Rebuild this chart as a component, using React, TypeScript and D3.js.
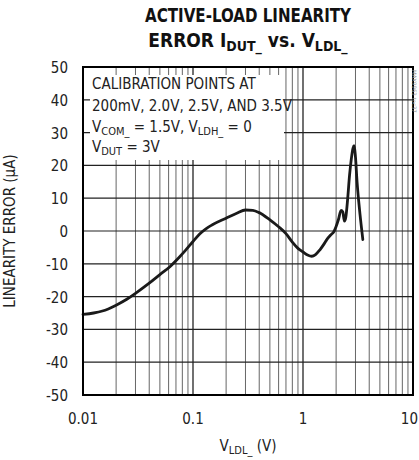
import * as d3 from 'd3'

// values
const VLDL = [0.01, 0.0125, 0.015, 0.02, 0.025, 0.03, 0.04, 0.05, 0.062, 0.075, 0.085, 0.1, 0.115, 0.13, 0.15, 0.2, 0.25, 0.3, 0.35, 0.4, 0.5, 0.6, 0.7, 0.8, 0.9, 1.0, 1.1, 1.2, 1.3, 1.42, 1.55, 1.64, 1.8, 1.9, 2.0, 2.1, 2.22, 2.3, 2.38, 2.45, 2.55, 2.65, 2.75, 2.85, 2.92, 3.0, 3.1, 3.2, 3.3, 3.5]
const ERROR_UA = [-25.4, -25, -24.4, -22.6, -20.8, -19, -15.9, -13.3, -10.8, -8, -6, -3.2, -0.9, 0.6, 1.9, 3.9, 5.4, 6.4, 6.3, 5.6, 3.4, 1.3, -0.8, -3.4, -5.3, -6.4, -7.3, -7.7, -7.2, -5.8, -4, -2.7, -1.1, -0.3, 1.4, 3.5, 6.3, 5.8, 3, 4.2, 10, 17, 22, 25.3, 26, 22.5, 15, 9.5, 5, -2.6]

const Y_TICKS = [50, 40, 30, 20, 10, 0, -10, -20, -30, -40, -50]
const X_TICKS = [0.01, 0.1, 1, 10]
const X_TICK_LABELS = ['0.01', '0.1', '1', '10']

const W = 419
const H = 460
const M = { left: 83, right: 6, top: 67, bottom: 65 }
const FONT = "'Liberation Sans Narrow', 'DejaVu Sans Condensed', 'Liberation Sans', sans-serif"

export default function App() {
  const x = d3.scaleLog().domain([0.01, 10]).range([M.left, W - M.right])
  const y = d3.scaleLinear().domain([-50, 50]).range([H - M.bottom, M.top])

  // minor grid values 2..9 per decade
  const minor: number[] = []
  for (let d = 0.01; d < 10; d *= 10) {
    for (let k = 2; k <= 9; k++) minor.push(+(d * k).toPrecision(3))
  }

  const line = d3.line<number>()
    .x((_, i) => x(VLDL[i]))
    .y(v => y(v))
    .curve(d3.curveMonotoneX)

  const [x0, x1] = x.range()
  const [y0, y1] = y.range()

  return (
    <svg width={W} height={H} style={{ position: 'absolute', left: 0, top: 0, background: '#fff' }} fontFamily={FONT}>
      {/* title */}
      <text x={248} y={22} textAnchor="middle" fontWeight="bold" fontSize={19} fill="#111" textLength={206} lengthAdjust="spacingAndGlyphs">ACTIVE-LOAD LINEARITY</text>
      <text x={248} y={47} textAnchor="middle" fontWeight="bold" fontSize={19} fill="#111">
        ERROR I<tspan fontSize={14} dy={4}>DUT_</tspan><tspan dy={-4}> vs. V</tspan><tspan fontSize={14} dy={4}>LDL_</tspan>
      </text>

      {/* grid */}
      {minor.map(v => (
        <line key={'m' + v} x1={x(v)} x2={x(v)} y1={y1} y2={y0} stroke="#666" strokeWidth={1} />
      ))}
      {X_TICKS.map(v => (
        <line key={'M' + v} x1={x(v)} x2={x(v)} y1={y1} y2={y0} stroke="#111" strokeWidth={1.2} />
      ))}
      {Y_TICKS.map(v => (
        <line key={'h' + v} x1={x0} x2={x1} y1={y(v)} y2={y(v)} stroke="#222" strokeWidth={1.2} />
      ))}

      {/* annotation box */}
      <rect x={90} y={75} width={194} height={85} fill="#fff" />
      <g fontSize={15} fill="#222">
        <text x={92} y={89}>CALIBRATION POINTS AT</text>
        <text x={92} y={111}>200mV, 2.0V, 2.5V, AND 3.5V</text>
        <text x={92} y={132}>V<tspan fontSize={11} dy={3}>COM_</tspan><tspan dy={-3}> = 1.5V, V</tspan><tspan fontSize={11} dy={3}>LDH_</tspan><tspan dy={-3}> = 0</tspan></text>
        <text x={92} y={152}>V<tspan fontSize={11} dy={3}>DUT</tspan><tspan dy={-3}> = 3V</tspan></text>
      </g>

      {/* curve */}
      <path d={line(ERROR_UA) || ''} fill="none" stroke="#1a1a1a" strokeWidth={2.8} strokeLinejoin="round" strokeLinecap="round" />

      {/* frame */}
      <rect x={x0} y={y1} width={x1 - x0} height={y0 - y1} fill="none" stroke="#000" strokeWidth={2} />

      {/* y ticks */}
      {Y_TICKS.map(v => (
        <text key={'yl' + v} x={68} y={y(v) + 6} textAnchor="end" fontSize={15} fill="#222">{v}</text>
      ))}
      {/* x ticks */}
      {X_TICKS.map((v, i) => (
        <text key={'xl' + v} x={i === X_TICKS.length - 1 ? 418 : x(v)} y={424} textAnchor={i === X_TICKS.length - 1 ? 'end' : 'middle'} fontSize={15} fill="#222">{X_TICK_LABELS[i]}</text>
      ))}

      {/* axis titles */}
      <text transform={`translate(15,${(y0 + y1) / 2}) rotate(-90)`} textAnchor="middle" fontSize={15} fill="#222">LINEARITY ERROR (µA)</text>
      <text x={248} y={451} textAnchor="middle" fontSize={15} fill="#222">
        V<tspan fontSize={11} dy={3}>LDL_</tspan><tspan dy={-3}> (V)</tspan>
      </text>

      {/* figure id */}
      <text transform="translate(412,70) rotate(90)" fontSize={6} fill="#999">MAX9963 toc37</text>
    </svg>
  )
}
